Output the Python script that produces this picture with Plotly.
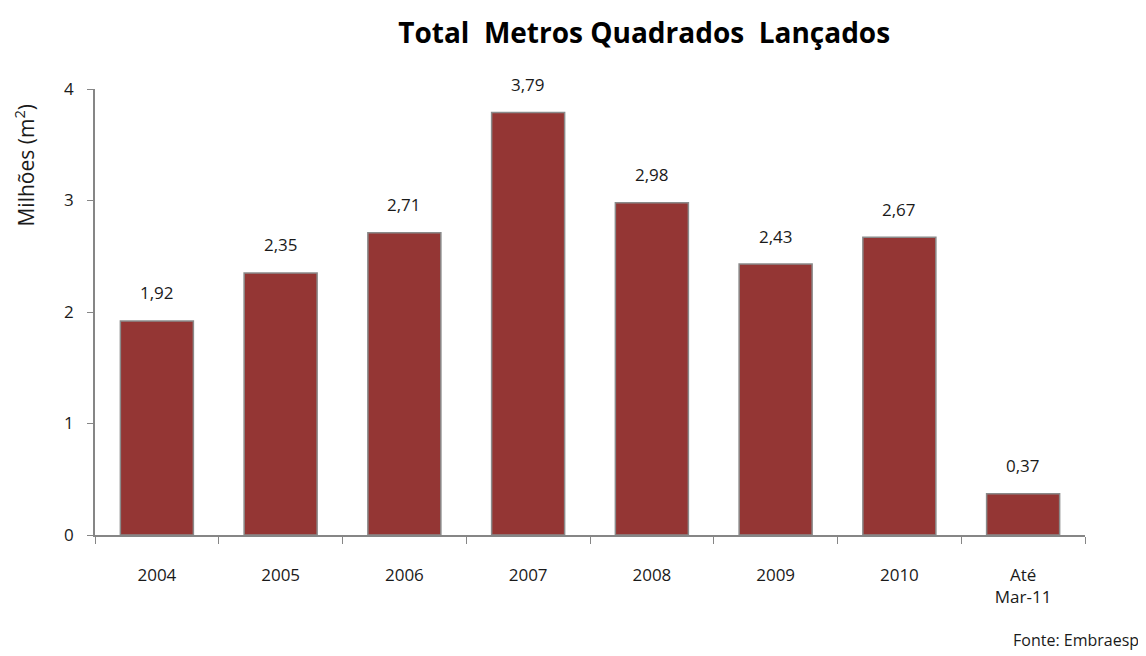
import plotly.graph_objects as go

# Dados
categorias = ['2004', '2005', '2006', '2007', '2008', '2009', '2010', 'Até<br>Mar-11']
valores = [1.92, 2.35, 2.71, 3.79, 2.98, 2.43, 2.67, 0.37]
rotulos = [f'{v:.2f}'.replace('.', ',') for v in valores]

COR_BARRA = '#943634'
COR_EIXO = '#868686'
FONTE = 'Open Sans'

fig = go.Figure()

fig.add_trace(go.Bar(
    x=categorias,
    y=valores,
    marker=dict(color=COR_BARRA, line=dict(color='#8a8a8a', width=1.5)),
    width=0.59,
    hoverinfo='x+y',
))

# rótulos de valor acima das barras (posição pelo índice da categoria)
for i, (v, r) in enumerate(zip(valores, rotulos)):
    fig.add_annotation(
        x=i, y=v, text=r, showarrow=False,
        yanchor='middle', yshift=28,
        font=dict(size=17, color='#1a1a1a', family=FONTE),
    )

fig.update_layout(
    width=1138,
    height=648,
    plot_bgcolor='white',
    paper_bgcolor='white',
    showlegend=False,
    margin=dict(l=87, r=61, t=81, b=121),
    font=dict(family=FONTE, size=17, color='#1a1a1a'),
    title=dict(
        text='<b>Total  Metros Quadrados  Lançados</b>',
        x=0.559, xanchor='center',
        y=0.961, yanchor='middle',
        font=dict(size=28, color='#000000', family=FONTE),
    ),
    xaxis=dict(
        type='category',
        range=[-0.5, len(categorias) - 0.5],
        showline=True, linecolor=COR_EIXO, linewidth=1.5,
        ticks='outside', tickson='boundaries', ticklen=7, tickcolor=COR_EIXO,
        tickfont=dict(size=17),
        ticklabelstandoff=24,
        showgrid=False,
    ),
    yaxis=dict(
        range=[0, 4],
        dtick=1,
        showline=True, linecolor=COR_EIXO, linewidth=1.5,
        ticks='outside', ticklen=6, tickcolor=COR_EIXO,
        tickfont=dict(size=17),
        ticklabelstandoff=10,
        showgrid=False, zeroline=False,
    ),
)

# título do eixo y (no topo do eixo, como no original)
fig.add_annotation(
    text='Milhões (m<sup>2</sup>)',
    xref='paper', yref='paper',
    x=-0.071, y=0.83,
    xanchor='center', yanchor='middle',
    textangle=-90, showarrow=False,
    font=dict(size=21, color='#1a1a1a'),
)

fig.add_annotation(
    text='Fonte: Embraesp',
    xref='paper', yref='paper',
    x=1.057, y=-0.235,
    xanchor='right', yanchor='middle',
    showarrow=False,
    font=dict(size=16, color='#1a1a1a'),
)

fig.write_html('out.html')
